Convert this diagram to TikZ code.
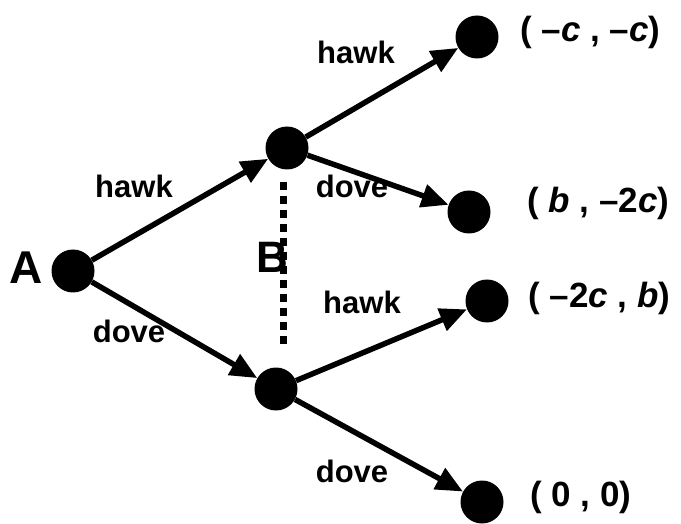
\documentclass[tikz,border=0pt]{standalone}
\usepackage{fontspec}
\setmainfont{Liberation Sans}
\usetikzlibrary{arrows.meta}

\begin{document}
\begin{tikzpicture}[x=1pt,y=-1pt,>={Triangle[length=27pt,width=23pt]},
  dot/.style={circle,fill,inner sep=0pt,minimum size=43pt},
  move/.style={->,line width=5.5pt},
  lbl/.style={font=\fontsize{31}{37}\selectfont\bfseries},
  pay/.style={font=\fontsize{35}{42}\selectfont\bfseries,anchor=west,inner sep=0pt}]
  \useasboundingbox (0,0) rectangle (681,524);
  % decision nodes
  \node[dot] (A) at (73,271) {};
  \node[font=\fontsize{46}{54}\selectfont\bfseries] (Alab) at (26,268) {A};
  \node[dot] (Bt) at (287,148) {};
  \node[dot] (Bb) at (276,389) {};
  \node[font=\fontsize{44}{52}\selectfont\bfseries] (Blab) at (272,257) {B};
  % outcomes
  \node[dot] (T1) at (477,37) {};
  \node[dot] (T2) at (469,212) {};
  \node[dot] (T3) at (487,301) {};
  \node[dot] (T4) at (482,502) {};
  % information set
  \coordinate (d1) at (283,182);
  \coordinate (d2) at (283,346);
  \draw[line width=7pt,dash pattern=on 8pt off 6pt] (d1) -- (d2);
  % moves
  \draw[move] (A) -- (Bt);
  \draw[move] (A) -- (Bb);
  \draw[move] (Bt) -- (T1);
  \draw[move] (Bt) -- (T2);
  \draw[move] (Bb) -- (T3);
  \draw[move] (Bb) -- (T4);
  \node[lbl] (h1) at (134,186) {hawk};
  \node[lbl] (d1l) at (129,331) {dove};
  \node[lbl] (h2) at (356,52) {hawk};
  \node[lbl] (d2l) at (352,186) {dove};
  \node[lbl] (h3) at (362,302) {hawk};
  \node[lbl] (d3l) at (352,471) {dove};
  % payoffs
  \node[pay] (p1) at (520,32) {( –\textit{c} , –\textit{c})};
  \node[pay] (p2) at (527,203) {( \textit{b} , –2\textit{c})};
  \node[pay] (p3) at (528,298) {( –2\textit{c} , \textit{b})};
  \node[pay] (p4) at (530,497) {( 0 , 0)};
\end{tikzpicture}
\end{document}
